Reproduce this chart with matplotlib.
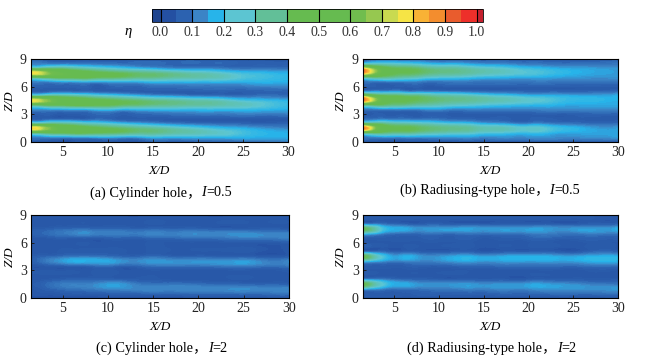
import numpy as np
import matplotlib
matplotlib.use("Agg")
import matplotlib.pyplot as plt
import matplotlib.tri as mtri
from matplotlib.colors import ListedColormap, BoundaryNorm, LinearSegmentedColormap, Normalize
from matplotlib.cm import ScalarMappable

x_d = [1.5, 2.5, 4, 6, 8, 11, 14, 17, 20, 23, 26, 30]
z_d = [0, 0.5, 1, 1.5, 2, 2.5, 3, 3.5, 4, 4.5, 5, 5.5, 6, 6.5, 7, 7.5, 8, 8.5, 9]

# colour bar
levels = [-0.027, 0, 0.05, 0.1, 0.15, 0.2, 0.3, 0.4, 0.5, 0.6, 0.65, 0.7, 0.75, 0.8, 0.85, 0.9, 0.95, 1.0, 1.02]
colors = ["#1f4590", "#2450a2", "#2c62b0", "#3b84c6", "#27b4ea", "#5cc5d2", "#62bf98", "#66bb50",
          "#66bb50", "#70bd4e", "#96c850", "#c9da50", "#f6e445", "#f9b235", "#f38d2e", "#e95c2d",
          "#ed2f2a", "#c4202e"]
cbar_ticks = [0.0, 0.1, 0.2, 0.3, 0.4, 0.5, 0.6, 0.7, 0.8, 0.9, 1.0]

# eta, rows go from Z/D=0 up to Z/D=9
eta_a = [
    [.05, .05, .05, .05, .06, .06, .06, .07, .07, .08, .09, .10],
    [.11, .11, .12, .12, .13, .14, .15, .16, .17, .17, .17, .17],
    [.36, .38, .42, .44, .43, .40, .36, .33, .30, .26, .20, .17],
    [.78, .74, .60, .52, .47, .41, .35, .29, .23, .18, .15, .12],
    [.32, .31, .34, .31, .26, .20, .15, .11, .09, .08, .07, .07],
    [.06, .06, .07, .07, .07, .06, .06, .05, .05, .05, .05, .05],
    [.06, .06, .06, .06, .07, .07, .08, .09, .10, .10, .11, .11],
    [.12, .12, .13, .14, .15, .16, .17, .18, .18, .18, .18, .16],
    [.36, .38, .42, .44, .44, .41, .37, .34, .32, .30, .27, .20],
    [.76, .72, .60, .53, .49, .43, .38, .34, .30, .26, .20, .17],
    [.32, .31, .35, .32, .28, .22, .16, .13, .10, .09, .09, .08],
    [.06, .06, .07, .07, .07, .06, .06, .06, .06, .07, .07, .07],
    [.07, .07, .07, .07, .07, .08, .08, .09, .10, .10, .11, .12],
    [.11, .11, .12, .13, .14, .15, .16, .17, .17, .17, .17, .17],
    [.36, .38, .42, .44, .44, .40, .36, .33, .31, .28, .22, .19],
    [.78, .74, .60, .53, .48, .42, .37, .33, .28, .23, .19, .17],
    [.33, .32, .35, .32, .27, .21, .16, .12, .11, .10, .09, .09],
    [.11, .11, .10, .10, .10, .09, .09, .08, .08, .08, .07, .07],
    [.07, .07, .07, .07, .07, .06, .06, .06, .06, .05, .05, .05],
]
eta_b = [
    [.05, .05, .05, .05, .05, .05, .05, .05, .05, .05, .05, .05],
    [.10, .11, .12, .12, .12, .13, .13, .13, .13, .13, .13, .15],
    [.36, .38, .37, .35, .32, .28, .25, .22, .20, .17, .16, .16],
    [.90, .72, .50, .46, .42, .37, .33, .30, .26, .21, .17, .15],
    [.38, .37, .34, .30, .27, .22, .18, .14, .11, .10, .09, .09],
    [.08, .09, .10, .10, .09, .08, .07, .07, .06, .06, .06, .06],
    [.06, .06, .06, .06, .06, .06, .06, .06, .06, .06, .07, .07],
    [.09, .09, .10, .10, .11, .11, .11, .11, .11, .12, .12, .12],
    [.33, .36, .37, .34, .30, .26, .23, .20, .18, .17, .16, .16],
    [.88, .72, .50, .46, .42, .37, .34, .30, .26, .22, .19, .17],
    [.65, .52, .43, .40, .37, .31, .27, .22, .18, .17, .16, .17],
    [.11, .12, .12, .11, .10, .09, .08, .07, .07, .07, .07, .08],
    [.06, .06, .06, .06, .06, .06, .06, .06, .06, .06, .06, .06],
    [.09, .09, .09, .10, .10, .10, .10, .10, .10, .10, .10, .10],
    [.30, .34, .34, .30, .26, .22, .19, .17, .16, .15, .14, .14],
    [.85, .70, .50, .44, .41, .36, .32, .28, .24, .20, .17, .15],
    [.75, .62, .47, .42, .38, .33, .28, .24, .19, .16, .15, .14],
    [.20, .24, .24, .22, .19, .16, .13, .12, .10, .09, .09, .10],
    [.10, .10, .09, .09, .09, .08, .08, .08, .07, .07, .07, .07],
]
eta_c = [
    [.03, .03, .03, .03, .03, .03, .03, .03, .04, .04, .04, .04],
    [.05, .05, .05, .06, .06, .07, .08, .08, .09, .09, .09, .10],
    [.05, .06, .08, .10, .11, .13, .13, .13, .13, .13, .13, .13],
    [.06, .07, .10, .12, .12, .15, .10, .10, .09, .08, .07, .06],
    [.05, .05, .06, .07, .07, .07, .06, .05, .05, .05, .05, .05],
    [.05, .05, .05, .05, .05, .05, .05, .05, .05, .05, .05, .05],
    [.05, .05, .05, .05, .05, .05, .05, .05, .05, .05, .05, .06],
    [.05, .05, .06, .07, .08, .08, .09, .10, .10, .11, .11, .11],
    [.07, .09, .13, .17, .17, .15, .14, .14, .14, .14, .14, .13],
    [.06, .07, .08, .10, .10, .08, .08, .07, .07, .06, .06, .06],
    [.05, .05, .05, .06, .06, .06, .05, .05, .05, .05, .05, .05],
    [.05, .05, .05, .05, .05, .05, .05, .05, .05, .05, .05, .05],
    [.05, .05, .05, .05, .05, .05, .05, .05, .05, .05, .05, .06],
    [.05, .05, .06, .06, .06, .07, .07, .08, .09, .10, .11, .12],
    [.07, .08, .10, .12, .13, .12, .12, .12, .13, .13, .13, .12],
    [.06, .06, .07, .08, .08, .08, .07, .07, .07, .06, .06, .05],
    [.05, .05, .05, .05, .05, .05, .05, .05, .05, .05, .05, .05],
    [.05, .05, .05, .05, .05, .05, .05, .05, .05, .05, .05, .05],
    [.04, .04, .04, .04, .04, .04, .04, .04, .04, .04, .04, .04],
]
eta_d = [
    [.04, .04, .04, .04, .04, .04, .04, .04, .04, .04, .04, .04],
    [.06, .06, .06, .06, .07, .07, .07, .08, .08, .09, .09, .10],
    [.18, .15, .11, .10, .10, .11, .12, .13, .13, .14, .14, .15],
    [.46, .36, .22, .17, .14, .14, .14, .14, .15, .14, .12, .10],
    [.14, .13, .11, .08, .07, .06, .06, .06, .06, .06, .06, .06],
    [.05, .05, .05, .05, .05, .05, .05, .05, .05, .05, .05, .05],
    [.05, .05, .05, .05, .05, .05, .05, .05, .05, .05, .05, .05],
    [.06, .06, .06, .06, .07, .07, .08, .09, .09, .09, .09, .09],
    [.20, .17, .13, .12, .12, .14, .15, .15, .15, .15, .16, .17],
    [.45, .35, .20, .17, .14, .15, .16, .16, .17, .16, .16, .17],
    [.10, .09, .08, .07, .06, .06, .06, .06, .06, .06, .06, .07],
    [.05, .05, .05, .05, .05, .05, .05, .05, .05, .05, .05, .05],
    [.05, .05, .05, .05, .05, .05, .05, .05, .05, .05, .05, .05],
    [.06, .06, .06, .06, .06, .06, .06, .06, .07, .07, .07, .07],
    [.22, .18, .11, .09, .09, .09, .10, .10, .11, .11, .11, .11],
    [.45, .36, .20, .17, .14, .15, .15, .15, .15, .14, .15, .17],
    [.12, .11, .09, .07, .06, .06, .06, .06, .06, .06, .06, .07],
    [.05, .05, .05, .05, .05, .05, .05, .05, .05, .05, .05, .05],
    [.05, .05, .05, .05, .05, .05, .05, .05, .05, .05, .05, .05],
]

panels = [eta_a, eta_b, eta_c, eta_d]
captions = [("(a) Cylinder hole，", "=0.5"), ("(b) Radiusing-type hole，", "=0.5"),
            ("(c) Cylinder hole，", "=2"), ("(d) Radiusing-type hole，", "=2")]

# pixel boxes of the panels: left, top, right, bottom
boxes = [(31, 59, 288, 142), (363, 59, 618, 142), (31, 215, 289, 298), (363, 215, 618, 298)]
caption_pos = [(161, 193), (490, 190), (162, 348), (492, 348)]
xlabel_y = [171, 171, 327, 327]
zlabel_x = [10, 341, 10, 341]

W, H = 653, 360
serif = ["Liberation Serif", "Noto Sans CJK SC"]
plt.rcParams["font.family"] = serif
plt.rcParams["axes.linewidth"] = 0.8

fig = plt.figure(figsize=(W / 100, H / 100), dpi=100)
cmap = ListedColormap(colors)
norm = BoundaryNorm(levels, cmap.N)

# softer version of the bar colours for the fields, the scan has blurred the bands
vmin, vmax = levels[0], levels[-1]
anchors = [(0.5 * (a + b) - vmin) / (vmax - vmin) for a, b in zip(levels[:-1], levels[1:])]
anchors[0], anchors[-1] = 0.0, 1.0
field_cmap = LinearSegmentedColormap.from_list("field", list(zip(anchors, colors)), N=256)
field_norm = Normalize(vmin, vmax)
fine_levels = np.linspace(vmin, vmax, 106)


def add_axes_px(left, top, right, bottom):
    return fig.add_axes([left / W, 1 - bottom / H, (right - left) / W, (bottom - top) / H])


def put_caption(cx, cy, first, last):
    # three pieces because of the italic I and the full width comma
    renderer = fig.canvas.get_renderer()
    parts = [fig.text(0, 1 - cy / H, first, fontsize=10.3, va="center"),
             fig.text(0, 1 - cy / H, "I", fontsize=10.3, va="center", style="italic"),
             fig.text(0, 1 - cy / H, last, fontsize=10.3, va="center")]
    widths = [p.get_window_extent(renderer).width for p in parts]
    px = cx - sum(widths) / 2
    for p, w in zip(parts, widths):
        p.set_x(px / W)
        px += w


xx, zz = np.meshgrid(x_d, z_d)
grid = mtri.Triangulation(xx.ravel(), zz.ravel())
refiner = mtri.UniformTriRefiner(grid)

for i, eta in enumerate(panels):
    ax = add_axes_px(*boxes[i])
    grid_fine, eta_fine = refiner.refine_field(np.array(eta).ravel(), subdiv=3)
    ax.tricontourf(grid_fine, eta_fine, levels=fine_levels, cmap=field_cmap, norm=field_norm,
                   extend="both", antialiased=False)
    ax.set_xlim(1.5, 30)
    ax.set_ylim(0, 9)
    ax.set_xticks([5, 10, 15, 20, 25, 30])
    ax.set_yticks([0, 3, 6, 9])
    ax.tick_params(direction="in", length=2, width=0.7, labelsize=10, pad=3, colors="#222222")
    fig.text((boxes[i][0] + boxes[i][2]) / 2 / W, 1 - xlabel_y[i] / H, "X/D", style="italic",
             fontsize=9.5, ha="center", va="center")
    fig.text(zlabel_x[i] / W, 1 - (boxes[i][1] + boxes[i][3]) / 2 / H, "Z/D", style="italic",
             fontsize=9.5, rotation=90, ha="center", va="center")
    put_caption(caption_pos[i][0], caption_pos[i][1], captions[i][0], captions[i][1])

# colour bar along the top
cax = add_axes_px(152, 9, 483, 22)
cb = fig.colorbar(ScalarMappable(norm=norm, cmap=cmap), cax=cax, orientation="horizontal",
                  spacing="proportional", ticks=cbar_ticks)
cb.ax.minorticks_off()
cb.ax.set_xticklabels(["%.1f" % t for t in cbar_ticks])
cb.ax.tick_params(axis="x", direction="in", length=9.4, width=0.8, labelsize=10, pad=3,
                  labelcolor="#333333")
cb.outline.set_linewidth(0.6)
fig.text(128 / W, 1 - 32 / H, "η", style="italic", fontsize=10.5, ha="center", va="center",
         family=["Liberation Serif", "DejaVu Serif"])

fig.savefig("out.png", dpi=100)
